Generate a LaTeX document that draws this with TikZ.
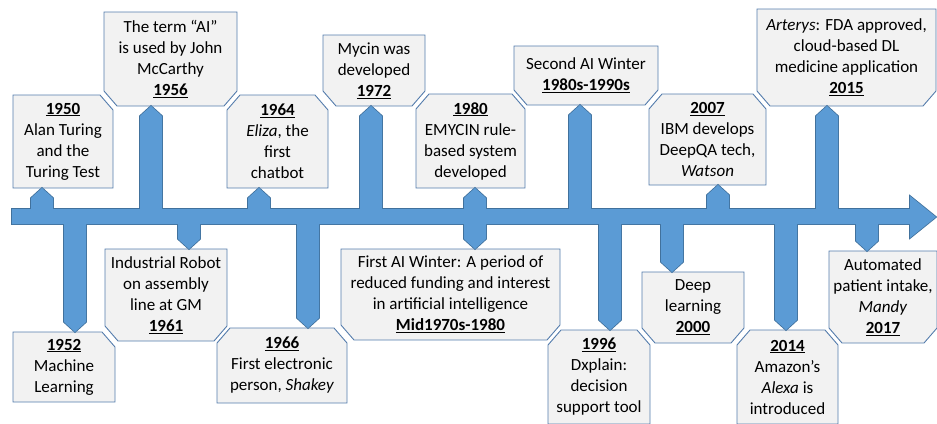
\documentclass[tikz,border=0pt]{standalone}
\usepackage{fontspec}
\setmainfont{Carlito}
\usepackage{tikz}
\usetikzlibrary{calc,backgrounds}

\definecolor{barblue}{RGB}{91,155,213}
\definecolor{barline}{RGB}{65,113,156}
\definecolor{boxfill}{RGB}{242,242,242}
\definecolor{boxline}{RGB}{84,124,172}

\newcommand{\yr}[1]{\underline{\textbf{#1}}}

\begin{document}
\begin{tikzpicture}[
  x=1pt, y=-1pt,
  event/.style={rectangle, align=center, inner sep=0pt, outer sep=0pt, font=\fontsize{17}{21}\selectfont},
  eventline/.style={draw=boxline, line width=0.9pt, fill=boxfill, line join=miter},
  stemedge/.style={draw=barline, line width=1.6pt, line join=miter},
  stemfill/.style={fill=barblue}
]
\useasboundingbox (0,0) rectangle (937,423);
\clip (0,0) rectangle (937,423);

% events above the line
\node[event, minimum width=100pt, minimum height=93pt] (b50) at (63,141.5)
  {\yr{1950}\\Alan Turing\\and the\\Turing Test};
\node[event, minimum width=133pt, minimum height=94pt] (b56) at (170.5,59)
  {The term “AI”\\is used by John\\McCarthy\\\yr{1956}};
\node[event, minimum width=101pt, minimum height=93pt] (b64) at (277.5,141.5)
  {\yr{1964}\\\textit{Eliza}, the\\first\\chatbot};
\node[event, minimum width=102pt, minimum height=71pt] (b72) at (374,70.5)
  {Mycin was\\developed\\\yr{1972}};
\node[event, minimum width=109pt, minimum height=94pt] (b80) at (470.5,141)
  {\yr{1980}\\EMYCIN rule-\\based system\\developed};
\node[event, minimum width=144pt, minimum height=59pt] (bw2) at (586,75.5)
  {Second AI Winter\\\yr{1980s-1990s}};
\node[event, minimum width=117pt, minimum height=91pt] (b07) at (707.5,139.5)
  {\yr{2007}\\IBM develops\\DeepQA tech,\\\textit{Watson}};
\node[event, minimum width=179pt, minimum height=97pt] (b15) at (846.5,57.5)
  {\textit{Arterys}: FDA approved,\\cloud-based DL\\medicine application\\\yr{2015}};

% events below the line
\node[event, minimum width=102pt, minimum height=70pt] (b52) at (64,367)
  {\yr{1952}\\Machine\\Learning};
\node[event, minimum width=122pt, minimum height=92pt] (b61) at (166,295)
  {Industrial Robot\\on assembly\\line at GM\\\yr{1961}};
\node[event, minimum width=130pt, minimum height=75pt] (b66) at (282,365.5)
  {\yr{1966}\\First electronic\\person, \textit{Shakey}};
\node[event, minimum width=219pt, minimum height=91pt] (bw1) at (450.5,294.5)
  {First AI Winter: A period of\\reduced funding and interest\\in artificial intelligence\\\yr{Mid1970s-1980}};
\node[event, minimum width=102pt, minimum height=94pt] (b96) at (599,377)
  {\yr{1996}\\Dxplain:\\decision\\support tool};
\node[event, minimum width=102pt, minimum height=71pt] (b00) at (693,307.5)
  {Deep\\learning\\\yr{2000}};
\node[event, minimum width=101pt, minimum height=94pt] (b14) at (787.5,377)
  {\yr{2014}\\Amazon’s\\\textit{Alexa} is\\introduced};
\node[event, minimum width=108pt, minimum height=92pt] (b17) at (883,297)
  {Automated\\patient intake,\\\textit{Mandy}\\\yr{2017}};

% box outlines with snipped corners
\begin{scope}[on background layer]
\foreach \n in {b64,b80,b07,b66,b96,b14}
  \path[eventline] ($(\n.north west)+(0,15)$) -- ($(\n.north west)+(13,0)$) -- ($(\n.north east)+(-13,0)$)
    -- ($(\n.north east)+(0,15)$) -- (\n.south east) -- (\n.south west) -- cycle;
\foreach \n in {b56,b72,bw2,b15,b61,bw1,b00,b17}
  \path[eventline] (\n.north west) -- (\n.north east) -- ($(\n.south east)+(0,-15)$) -- ($(\n.south east)+(-13,0)$)
    -- ($(\n.south west)+(13,0)$) -- ($(\n.south west)+(0,-15)$) -- cycle;
\foreach \n in {b50,b52}
  \path[eventline] (\n.north west) -- ($(\n.north east)+(-13,0)$) -- ($(\n.north east)+(0,15)$)
    -- (\n.south east) -- (\n.south west) -- cycle;
\end{scope}

% feet of the stems on the time line
\foreach \s/\x in {s50/42, s56/151, s64/259, s72/371, s80/475, sw2/580, s07/718, s15/827,
                   s52/75, s61/189, s66/308, sw1/475, s96/610, s00/672, s14/786, s17/867}
  \coordinate (\s) at (\x,216.5);

% time line with stems, outline first, then fill
\foreach \pass in {stemedge,stemfill}{
  \path[\pass] (12,209) -- (910,209) -- (910,196) -- (936,217) -- (910,238) -- (910,224) -- (12,224) -- cycle;
  \foreach \b/\s in {b50/s50, b56/s56, b64/s64, b72/s72, b80/s80, bw2/sw2, b07/s07, b15/s15}
    \path[\pass] ($(\s)+(-11,0)$) -- ($(\s |- \b.south)+(-11,10)$) -- (\s |- \b.south)
      -- ($(\s |- \b.south)+(11,10)$) -- ($(\s)+(11,0)$) -- cycle;
  \foreach \b/\s in {b52/s52, b61/s61, b66/s66, bw1/sw1, b96/s96, b00/s00, b14/s14, b17/s17}
    \path[\pass] ($(\s)+(-11,0)$) -- ($(\s |- \b.north)+(-11,-10)$) -- (\s |- \b.north)
      -- ($(\s |- \b.north)+(11,-10)$) -- ($(\s)+(11,0)$) -- cycle;
}
\end{tikzpicture}
\end{document}
